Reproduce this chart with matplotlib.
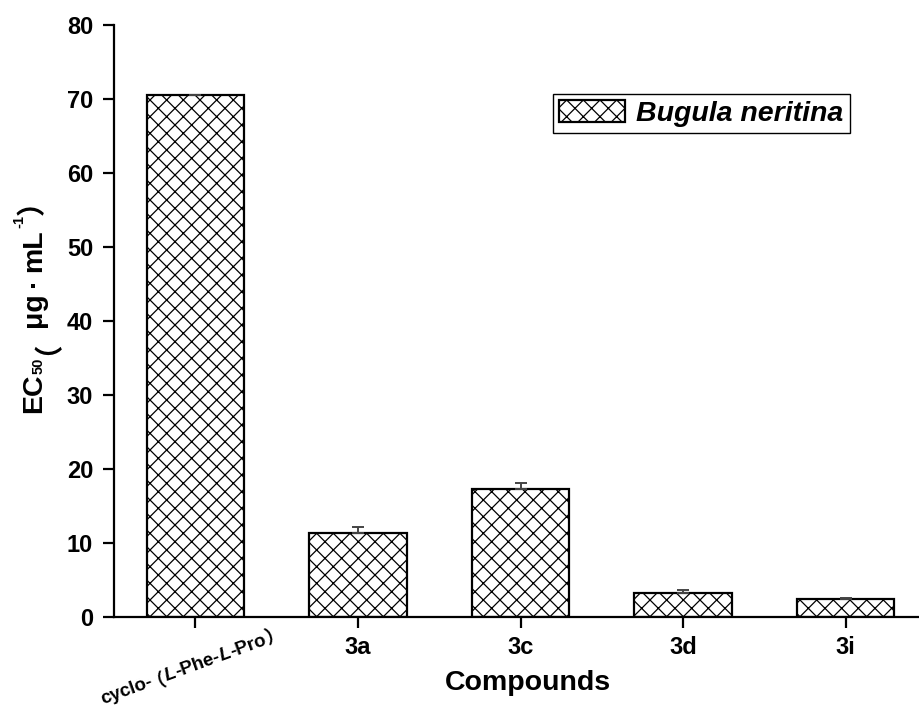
import numpy as np
import matplotlib
matplotlib.use('Agg')
from matplotlib import pyplot as plt
from matplotlib.transforms import IdentityTransform

plt.rcParams['font.family'] = ['Liberation Sans', 'Noto Sans CJK SC']
plt.rcParams['font.weight'] = 'bold'
plt.rcParams['hatch.linewidth'] = 0.9

compounds = ['cyclo-（L-Phe-L-Pro）', '3a', '3c', '3d', '3i']
ec50 = [70.5, 11.35, 17.3, 3.25, 2.45]
ec50_err = [0.0, 0.8, 0.8, 0.35, 0.1]
legend_label = 'Bugula neritina'
y_ticks = [0, 10, 20, 30, 40, 50, 60, 70, 80]

# rich text pieces: (text, size, style, baseline shift px, extra gap after px)
first_label = [('cyclo-', 13.5, 'normal', 0, -5), ('（', 13.5, 'normal', 0, 0),
               ('L', 13.5, 'italic', 0, 0), ('-Phe-', 13.5, 'normal', 0, 0),
               ('L', 13.5, 'italic', 0, 0), ('-Pro', 13.5, 'normal', 0, 0),
               ('）', 13.5, 'normal', 0, 0)]
y_label = [('EC', 20.5, 'normal', 0, 0), ('50', 10.5, 'normal', -2, 2),
           ('（', 20.5, 'normal', 0, 0), ('μg', 20.5, 'normal', 0, 5),
           ('·', 20.5, 'normal', 0, 5), ('mL', 20.5, 'normal', 0, 2),
           ('-1', 10.5, 'normal', 18, 0), ('）', 20.5, 'normal', 0, 0)]

fig = plt.figure(figsize=(9.19, 7.10), dpi=100)
ax = fig.add_axes([114 / 919, 93 / 710, 813 / 919, 592 / 710])

x = np.arange(len(compounds))
ax.bar(x, ec50, width=0.6, color='white', edgecolor='black', linewidth=1.6,
       hatch='xx', label=legend_label,
       yerr=[np.zeros(len(ec50)), ec50_err],
       error_kw=dict(ecolor='#444444', elinewidth=1.4, capsize=4.5, capthick=1.4))

ax.set_xlim(-0.5, 4.5)
ax.set_ylim(0, 80)
ax.set_yticks(y_ticks)
ax.set_xticks(x)
ax.set_xticklabels([''] + compounds[1:])

for s in ['top', 'right']:
    ax.spines[s].set_visible(False)
for s in ['left', 'bottom']:
    ax.spines[s].set_linewidth(1.6)
ax.tick_params(axis='both', direction='out', length=8, width=1.6, labelsize=17)
ax.tick_params(axis='y', pad=7)
ax.tick_params(axis='x', pad=6)

ax.set_xlabel('Compounds', fontsize=20.5, fontweight='bold')
ax.xaxis.set_label_coords((528 - 114) / 813, (617 - 690) / 592)
ax.xaxis.label.set_va('baseline')

leg = ax.legend(loc='upper left', bbox_to_anchor=(0.540, 0.8834), borderaxespad=0,
                prop=dict(size=20.5, weight='bold', style='italic'),
                fancybox=False, framealpha=1, edgecolor='black',
                handlelength=2.3, handleheight=0.8, handletextpad=0.4,
                borderpad=0.22)
leg.get_frame().set_linewidth(1.0)


def place_pieces(pieces, start, angle):
    r = fig.canvas.get_renderer()
    a = np.deg2rad(angle)
    ux, uy = np.cos(a), np.sin(a)
    px, py = -uy, ux
    pos = 0.0
    for s, size, style, shift, gap in pieces:
        t = fig.text(0, 0, s, fontsize=size, style=style, fontweight='bold',
                     transform=IdentityTransform(), ha='left', va='baseline')
        w = t.get_window_extent(r).width
        t.set_position((start[0] + pos * ux + shift * px, start[1] + pos * uy + shift * py))
        t.set_rotation(angle)
        t.set_rotation_mode('anchor')
        pos += w + gap


fig.canvas.draw()
# first tick label, rotated
place_pieces(first_label, (103, 710 - 704), 20)
# y axis label
place_pieces(y_label, (41, 710 - 413), 90)

fig.savefig('out.png', dpi=100)
